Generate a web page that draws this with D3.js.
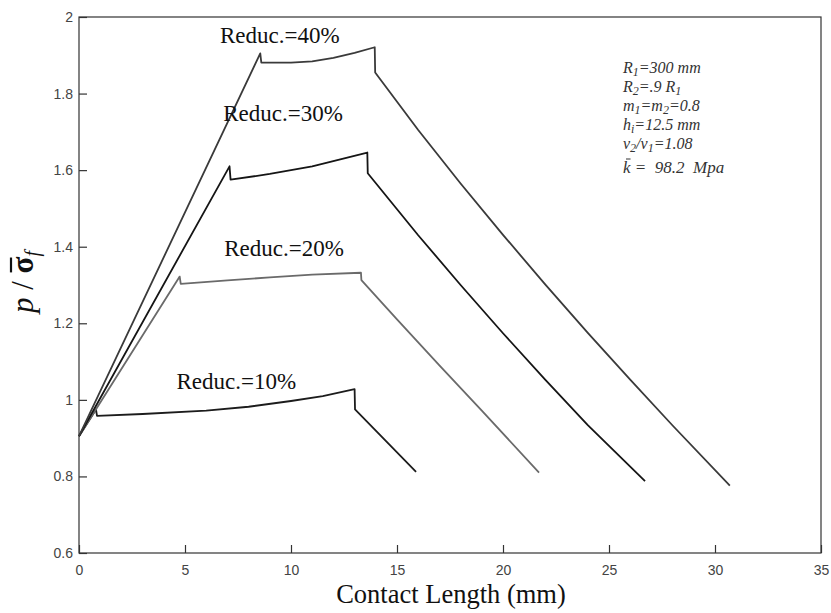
<!DOCTYPE html>
<html>
<head>
<meta charset="utf-8">
<script src="https://cdn.jsdelivr.net/npm/d3@7"></script>
<style>
  body { margin: 0; background: #fff; }
  .tick text { font-family: "Liberation Sans", Arial, sans-serif; font-size: 14px; fill: #444; }
</style>
</head>
<body>
<svg id="chart" width="831" height="613"></svg>
<script>
// Curves: [contact length (mm), p / sigma_f]
var reduc10 = [[0, 0.905], [0.8, 0.975], [0.85, 0.958], [3, 0.963], [6, 0.972], [8, 0.982],
    [10, 0.997], [11.5, 1.01], [13, 1.028], [13.02, 0.975], [15.9, 0.812]];
var reduc20 = [[0, 0.905], [4.75, 1.322], [4.8, 1.303], [7, 1.312], [9, 1.32], [11, 1.327],
    [13.3, 1.332], [13.32, 1.313], [15, 1.21], [17, 1.09], [19, 0.972], [21.7, 0.81]];
var reduc30 = [[0, 0.905], [7.1, 1.61], [7.15, 1.575], [9, 1.59], [11, 1.61], [13.6, 1.646],
    [13.62, 1.592], [16, 1.43], [18, 1.3], [20, 1.174], [22, 1.052], [24, 0.934], [26.7, 0.788]];
var reduc40 = [[0, 0.905], [8.55, 1.905], [8.6, 1.881], [10, 1.881], [11, 1.884], [12, 1.893],
    [13, 1.906], [13.95, 1.921], [13.97, 1.855], [16, 1.705], [18, 1.565], [20, 1.431],
    [22, 1.301], [24, 1.175], [26, 1.053], [28, 0.933], [30.7, 0.776]];

var seriesNames = ["Reduc.=10%", "Reduc.=20%", "Reduc.=30%", "Reduc.=40%"];
var xTicks = [0, 5, 10, 15, 20, 25, 30, 35];
var yTicks = [0.6, 0.8, 1, 1.2, 1.4, 1.6, 1.8, 2];

var svg = d3.select("#chart");
var margin = {left: 79, right: 10, top: 17, bottom: 60};
var width = 831 - margin.left - margin.right;
var height = 613 - margin.top - margin.bottom;

var x = d3.scaleLinear().domain([0, 35]).range([0, width]);
var y = d3.scaleLinear().domain([0.6, 2]).range([height, 0]);

var g = svg.append("g")
    .attr("transform", "translate(" + margin.left + "," + margin.top + ")");

// Box round the plot area.
g.append("rect")
    .attr("width", width)
    .attr("height", height)
    .style("fill", "none")
    .style("stroke", "#333")
    .style("stroke-width", 1.2);

// Axes with inward ticks (bottom and left only).
g.append("g")
    .attr("transform", "translate(0," + height + ")")
    .call(d3.axisBottom(x).tickValues(xTicks).tickSizeInner(-8).tickSizeOuter(0).tickPadding(12)
        .tickFormat(d3.format("d")));
g.append("g")
    .call(d3.axisLeft(y).tickValues(yTicks).tickSizeInner(-8).tickSizeOuter(0).tickPadding(6)
        .tickFormat(function(d){ return d === 1 || d === 2 ? String(d) : d3.format(".1f")(d); }));
g.selectAll(".domain").remove();
g.selectAll(".tick line").style("stroke", "#333").style("stroke-width", 1.2);

// The four curves.
var line = d3.line()
    .x(function(d){ return x(d[0]); })
    .y(function(d){ return y(d[1]); });

var curves = [
    {name: seriesNames[0], values: reduc10, color: "#1c1c1c"},
    {name: seriesNames[1], values: reduc20, color: "#6a6a6a"},
    {name: seriesNames[2], values: reduc30, color: "#151515"},
    {name: seriesNames[3], values: reduc40, color: "#3a3a3a"}
];

g.selectAll("path.curve")
    .data(curves)
    .enter()
    .append("path")
    .attr("class", "curve")
    .attr("d", function(d){ return line(d.values); })
    .style("fill", "none")
    .style("stroke", function(d){ return d.color; })
    .style("stroke-width", 1.8)
    .style("stroke-linejoin", "round");

// Curve labels, placed in data units (same order as curves).
var labelSpots = [[4.6, 1.029], [6.85, 1.376], [6.8, 1.728], [6.65, 1.932]];
g.selectAll("text.curve-label")
    .data(curves)
    .enter()
    .append("text")
    .attr("class", "curve-label")
    .attr("x", function(d, i){ return x(labelSpots[i][0]); })
    .attr("y", function(d, i){ return y(labelSpots[i][1]); })
    .style("font-family", "'Liberation Serif', 'Times New Roman', serif")
    .style("font-size", "23px")
    .style("fill", "#111")
    .text(function(d){ return d.name; });

// Parameter notes in the upper right.
var notes = g.append("g")
    .attr("transform", "translate(" + (623 - margin.left) + "," + (73 - margin.top) + ")")
    .style("font-family", "'Liberation Serif', 'Times New Roman', serif")
    .style("font-style", "italic")
    .style("font-size", "16px")
    .style("fill", "#333");

// each note is a list of [text, shift] parts; shift > 0 is a subscript
var noteLines = [
    [["R", 0], ["1", 1], ["=300 mm", 0]],
    [["R", 0], ["2", 1], ["=.9 R", 0], ["1", 1]],
    [["m", 0], ["1", 1], ["=m", 0], ["2", 1], ["=0.8", 0]],
    [["h", 0], ["i", 1], ["=12.5 mm", 0]],
    [["v", 0], ["2", 1], ["/v", 0], ["1", 1], ["=1.08", 0]]
];
noteLines.forEach(function(parts, i){
    var t = notes.append("text").attr("y", i * 19);
    var prev = 0;
    parts.forEach(function(p){
        t.append("tspan")
            .attr("dy", (p[1] - prev) * 3)
            .style("font-size", p[1] ? "12px" : "16px")
            .text(p[0]);
        prev = p[1];
    });
});
var kText = notes.append("text").attr("y", 5 * 19 + 5).style("font-size", "17px");
kText.append("tspan").text("k");
kText.append("tspan").attr("xml:space", "preserve").style("white-space", "pre").text(" =  98.2  Mpa");
var kBox = kText.node().getExtentOfChar(0);
notes.append("line")
    .attr("x1", kBox.x + 3).attr("x2", kBox.x + kBox.width)
    .attr("y1", kBox.y + 1).attr("y2", kBox.y + 1)
    .style("stroke", "#333").style("stroke-width", 1);

// Axis titles.
svg.append("text")
    .attr("x", 451)
    .attr("y", 603)
    .attr("text-anchor", "middle")
    .style("font-family", "'Liberation Serif', 'Times New Roman', serif")
    .style("font-size", "26.5px")
    .style("fill", "#111")
    .text("Contact Length (mm)");

var yTitle = svg.append("g")
    .attr("transform", "translate(33,282) rotate(-90)");
var yt = yTitle.append("text")
    .attr("text-anchor", "middle")
    .style("font-family", "'Liberation Serif', 'Times New Roman', serif")
    .style("font-size", "31px")
    .style("fill", "#111");
yt.append("tspan").style("font-style", "italic").text("p");
yt.append("tspan").text(" / ");
yt.append("tspan").style("font-weight", "bold").text("σ");
yt.append("tspan").style("font-style", "italic").style("font-size", "20px").attr("dy", 6).text("f");
var sBox = yt.node().getExtentOfChar(4);
yTitle.append("line")
    .attr("x1", sBox.x + 1).attr("x2", sBox.x + sBox.width - 1)
    .attr("y1", sBox.y + 6).attr("y2", sBox.y + 6)
    .style("stroke", "#111").style("stroke-width", 2.2);
</script>
</body>
</html>
